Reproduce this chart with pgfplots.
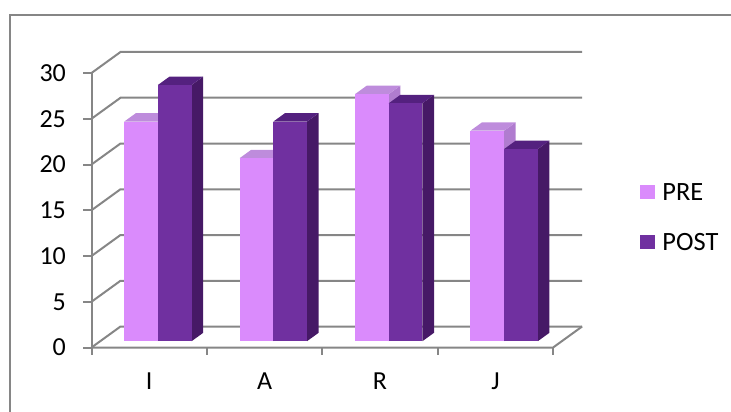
\documentclass[border=0pt]{standalone}
\usepackage{pgfplots}
\usepackage{pgfplotstable}
\pgfplotsset{compat=1.18}
\usepackage{fontspec}
\setmainfont{Carlito}

\definecolor{preFront}{HTML}{DA8BFC}
\definecolor{preTop}{HTML}{BE8CDC}
\definecolor{preSide}{HTML}{B07CCF}
\definecolor{postFront}{HTML}{7030A0}
\definecolor{postTop}{HTML}{54217F}
\definecolor{postSide}{HTML}{461966}
\definecolor{wall}{HTML}{868686}

\pgfplotstableread{
cat pre post
I 24 28
A 20 24
R 27 26
J 23 21
}\scores

% one 3D column: #1,#2 left/right edge, #3 height, #4-#6 front/side/top colours
\newcommand\drawbox[6]{%
  \edef\boxcmd{%
    \noexpand\addplot3[forget plot,draw=none,fill=#5] coordinates {(#2,0.3,0) (#2,0.7,0) (#2,0.7,#3) (#2,0.3,#3)};
    \noexpand\addplot3[forget plot,draw=none,fill=#6] coordinates {(#1,0.3,#3) (#2,0.3,#3) (#2,0.7,#3) (#1,0.7,#3)};
    \noexpand\addplot3[forget plot,draw=none,fill=#4] coordinates {(#1,0.3,0) (#2,0.3,0) (#2,0.3,#3) (#1,0.3,#3)};
  }\boxcmd}

\newcommand\labelfont{\fontsize{13}{15}\selectfont}
\newcommand\legendfont{\fontsize{13.2}{15}\selectfont}

\begin{document}
\begin{tikzpicture}
\begin{scope}[x=0.5pt,y=-0.5pt]
  \path[use as bounding box,clip] (0,0) rectangle (731,411);
  \draw[wall,line width=1pt] (10,15) rectangle (760,440);
\end{scope}

\begin{axis}[
  at={(45.75pt,-173.75pt)}, anchor=origin,
  x={(57.7pt,0pt)}, y={(14.5pt,10.5pt)}, z={(0pt,4.575pt)},
  xmin=0, xmax=4, ymin=0, ymax=1, zmin=0, zmax=30,
  hide axis, clip=false,
]
  % side wall and back wall grid
  \pgfplotsinvokeforeach{0,5,...,30}{
    \addplot3[forget plot,wall,line width=1pt] coordinates {(0,0,#1) (0,1,#1) (4,1,#1)};
  }
  % floor edges and value axis
  \addplot3[forget plot,wall,line width=1pt] coordinates {(0,0,0) (4,0,0) (4,1,0)};
  \addplot3[forget plot,wall,line width=1pt] coordinates {(0,0,30) (0,0,0)};

  % columns
  \pgfplotsinvokeforeach{0,1,2,3}{
    \pgfplotstablegetelem{#1}{pre}\of\scores
    \let\vpre\pgfplotsretval
    \pgfplotstablegetelem{#1}{post}\of\scores
    \let\vpost\pgfplotsretval
    \pgfmathsetmacro\xa{#1+0.5-0.292}
    \pgfmathsetmacro\xb{#1+0.5}
    \pgfmathsetmacro\xc{#1+0.5+0.292}
    \drawbox{\xa}{\xb}{\vpre}{preFront}{preSide}{preTop}
    \drawbox{\xb}{\xc}{\vpost}{postFront}{postSide}{postTop}
  }

  % value ticks and labels
  \pgfplotsinvokeforeach{0,5,...,30}{
    \draw[wall,line width=1pt] (axis cs:0,0,#1) -- ++(-4.25pt,0pt);
    \node[anchor=east,inner sep=0pt,font=\labelfont]
      at (axis cs:0,0,#1) [xshift=-12.6pt] {#1};
  }
  % category ticks
  \pgfplotsinvokeforeach{0,1,2,3,4}{
    \draw[wall,line width=1pt] (axis cs:#1,0,0) -- ++(0pt,-3.75pt);
  }
  % category labels
  \node[anchor=base,inner sep=0pt,font=\labelfont] at (axis cs:0.5,0,0) [yshift=-20.9pt] {I};
  \node[anchor=base,inner sep=0pt,font=\labelfont] at (axis cs:1.5,0,0) [yshift=-20.9pt] {A};
  \node[anchor=base,inner sep=0pt,font=\labelfont] at (axis cs:2.5,0,0) [yshift=-20.9pt] {R};
  \node[anchor=base,inner sep=0pt,font=\labelfont] at (axis cs:3.5,0,0) [yshift=-20.9pt] {J};
\end{axis}

% legend
\begin{scope}[x=0.5pt,y=-0.5pt]
  \fill[preFront] (640,185) rectangle (655,199);
  \node[anchor=base west,inner sep=0pt,font=\legendfont] at (662,200.5) {PRE};
  \fill[postFront] (640,235) rectangle (655,249);
  \node[anchor=base west,inner sep=0pt,font=\legendfont] at (662,250) {POST};
\end{scope}
\end{tikzpicture}
\end{document}
